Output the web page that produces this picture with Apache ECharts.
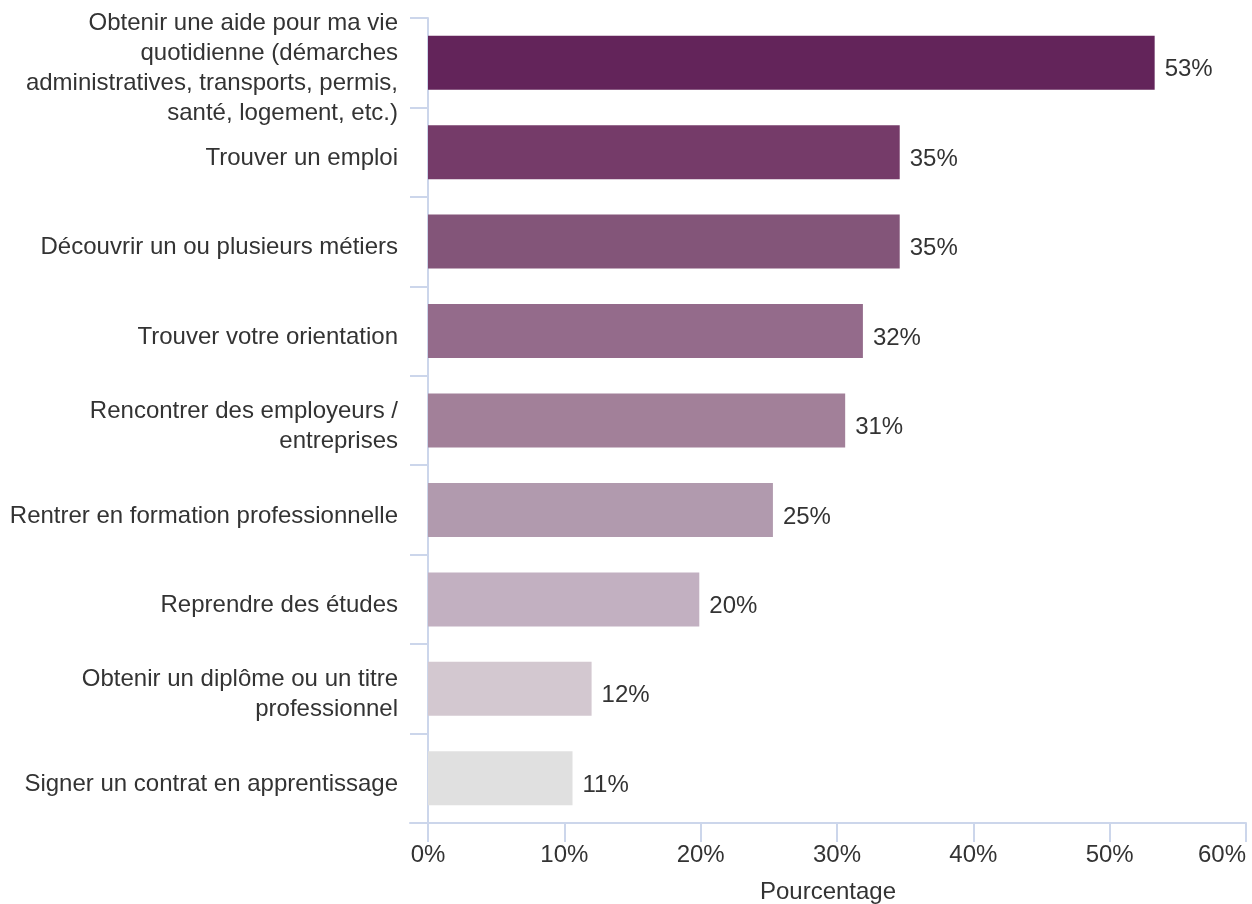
<!DOCTYPE html>
<html>
<head>
<meta charset="utf-8">
<script src="https://cdn.jsdelivr.net/npm/echarts@6/dist/echarts.min.js"></script>
<style>
html,body{margin:0;padding:0;background:#fff;}
#chart{width:1252px;height:904px;}
</style>
</head>
<body>
<div id="chart"></div>
<script>
const categories = [
  "Obtenir une aide pour ma vie\nquotidienne (démarches\nadministratives, transports, permis,\nsanté, logement, etc.)",
  "Trouver un emploi",
  "Découvrir un ou plusieurs métiers",
  "Trouver votre orientation",
  "Rencontrer des employeurs /\nentreprises",
  "Rentrer en formation professionnelle",
  "Reprendre des études",
  "Obtenir un diplôme ou un titre\nprofessionnel",
  "Signer un contrat en apprentissage"
];
const values = [53.3, 34.6, 34.6, 31.9, 30.6, 25.3, 19.9, 12.0, 10.6];
const barColors = ["#63245A", "#753B69", "#835579", "#946B8B", "#A28099", "#B19AAE", "#C2B0C1", "#D3C8D0", "#E0E0E0"];
const xTicks = [0, 10, 20, 30, 40, 50, 60];
const xAxisTitle = "Pourcentage";

const axisColor = "#CCD6EB";
const textColor = "#333333";
const fontFamily = "'Liberation Sans', Arial, sans-serif";

const chart = echarts.init(document.getElementById('chart'), null, {renderer: 'canvas'});
chart.setOption({
  animation: false,
  textStyle: {fontFamily: fontFamily},
  grid: {left: 410, right: 6, top: 18, bottom: 81, containLabel: false, outerBoundsMode: 'none'},
  xAxis: {
    type: 'value',
    min: -1.32,
    max: 60,
    name: xAxisTitle,
    nameLocation: 'middle',
    nameGap: 57,
    nameTextStyle: {fontSize: 24, color: textColor, fontFamily: fontFamily},
    axisLine: {show: true, lineStyle: {color: axisColor, width: 2}},
    axisTick: {show: true, length: 19, customValues: xTicks, lineStyle: {color: axisColor, width: 2}},
    axisLabel: {
      customValues: xTicks,
      formatter: v => Math.round(v) + '%',
      fontSize: 24, color: textColor, fontFamily: fontFamily,
      margin: 20,
      alignMaxLabel: 'right'
    },
    splitLine: {show: false}
  },
  yAxis: {
    type: 'category',
    data: categories,
    inverse: true,
    axisLine: {show: true, onZero: true, lineStyle: {color: axisColor, width: 2}},
    axisTick: {show: true, length: 18, lineStyle: {color: axisColor, width: 2}},
    axisLabel: {
      margin: 12, align: 'right',
      formatter: v => '{s| }\n' + v.split('\n').map(l => '{a|' + l + '}').join('\n'),
      rich: {
        s: {fontSize: 4, lineHeight: 12, color: textColor},
        a: {fontSize: 24, lineHeight: 30, color: textColor, fontFamily: fontFamily, align: 'right'}
      }
    },
    splitLine: {show: false}
  },
  series: [{
    type: 'bar',
    data: values.map((v, i) => ({value: v, itemStyle: {color: barColors[i]}})),
    barWidth: '60.4%',
    label: {
      show: true,
      position: 'right',
      distance: 10,
      offset: [0, 7],
      formatter: p => Math.round(p.value) + '%',
      fontSize: 24, color: textColor, fontFamily: fontFamily
    }
  }]
});
</script>
</body>
</html>
